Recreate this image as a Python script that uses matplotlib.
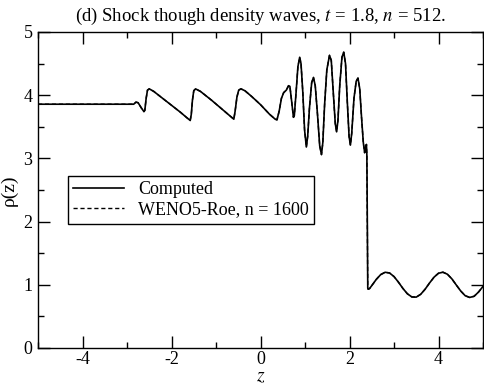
import matplotlib
matplotlib.use("Agg")
import matplotlib.pyplot as plt
from matplotlib.ticker import MultipleLocator

plt.rcParams['font.family'] = ['Liberation Serif', 'DejaVu Serif']
plt.rcParams['mathtext.fontset'] = 'stix'
plt.rcParams['axes.unicode_minus'] = False

# Computed density profile
z_computed = [
    -5.0, -3.0, -2.85, -2.80, -2.75, -2.68, -2.62, -2.60, -2.57, -2.54, -2.50,
    -2.40, -2.20, -2.00, -1.80, -1.65, -1.58, -1.555, -1.53, -1.50, -1.46,
    -1.35, -1.10, -0.85, -0.65, -0.60, -0.57, -0.53, -0.49, -0.44,
    -0.35, -0.20, 0.00, 0.20, 0.33, 0.37, 0.42, 0.47, 0.52, 0.58, 0.63, 0.66,
    0.70, 0.74, 0.76, 0.80, 0.84, 0.88, 0.91, 0.95, 0.99, 1.03, 1.06, 1.10,
    1.15, 1.19, 1.23, 1.28, 1.33, 1.37, 1.40, 1.44, 1.49, 1.55, 1.59, 1.63,
    1.68, 1.71, 1.74, 1.78, 1.83, 1.87, 1.91, 1.95, 1.99, 2.02, 2.05, 2.10,
    2.15, 2.19, 2.23, 2.27, 2.31, 2.34, 2.36, 2.38, 2.39, 2.40, 2.41, 2.42,
    2.45, 2.50, 2.60, 2.70, 2.80, 2.90, 3.00, 3.10, 3.20, 3.30, 3.40, 3.50,
    3.60, 3.70, 3.80, 3.90, 4.00, 4.10, 4.20, 4.30, 4.40, 4.50, 4.60, 4.70,
    4.80, 4.90, 5.00,
]
rho_computed = [
    3.857, 3.857, 3.857, 3.89, 3.88, 3.80, 3.74, 3.76, 3.95, 4.08, 4.10,
    4.06, 3.95, 3.84, 3.73, 3.64, 3.60, 3.70, 3.92, 4.07, 4.10,
    4.06, 3.92, 3.77, 3.65, 3.62, 3.75, 3.97, 4.08, 4.10,
    4.07, 3.98, 3.85, 3.70, 3.62, 3.61, 3.75, 3.95, 4.04, 4.08, 4.15, 4.14,
    3.90, 3.65, 3.68, 4.05, 4.45, 4.60, 4.50, 4.05, 3.45, 3.18, 3.35, 3.80,
    4.20, 4.28, 4.15, 3.70, 3.20, 3.06, 3.25, 3.85, 4.40, 4.63, 4.55, 4.10,
    3.55, 3.42, 3.60, 4.15, 4.60, 4.68, 4.50, 3.90, 3.35, 3.21, 3.40, 3.95,
    4.22, 4.27, 4.10, 3.65, 3.25, 3.09, 3.17, 3.22, 3.05, 2.00, 0.95, 0.93,
    0.94, 0.987, 1.084, 1.161, 1.198, 1.187, 1.130, 1.041, 0.942, 0.858, 0.808, 0.805,
    0.850, 0.931, 1.030, 1.121, 1.183, 1.199, 1.167, 1.094, 0.996, 0.901, 0.827, 0.800,
    0.818, 0.886, 0.974,
]
# Reference solution (WENO5-Roe, n = 1600) — visually coincides with computed
z_ref = list(z_computed)
rho_ref = list(rho_computed)

fig = plt.figure(figsize=(4.85, 3.84), dpi=100)
ax = fig.add_axes([0.0784, 0.09375, 0.9175, 0.823])

ax.plot(z_computed, rho_computed, color='black', lw=1.2, label='Computed')
ax.plot(z_ref, rho_ref, color='black', lw=1.0, ls=(0, (3, 2)), label='WENO5-Roe, n = 1600')

ax.set_xlim(-5, 5)
ax.set_ylim(0, 5)
ax.xaxis.set_major_locator(MultipleLocator(2))
ax.xaxis.set_minor_locator(MultipleLocator(1))
ax.yaxis.set_major_locator(MultipleLocator(1))
ax.yaxis.set_minor_locator(MultipleLocator(0.5))
ax.tick_params(which='both', direction='in', top=True, right=True, labelsize=13, width=1)
ax.tick_params(which='major', length=8.5)
ax.tick_params(axis='x', which='major', pad=2.5)
ax.tick_params(axis='y', which='major', pad=4)
ax.tick_params(which='minor', length=4.3)
for s in ax.spines.values():
    s.set_linewidth(1.0)

ax.set_xlabel('$z$', fontsize=14)
ax.xaxis.set_label_coords(0.5, -0.064)
ax.set_ylabel('ρ(z)', fontsize=14, labelpad=4)
ax.set_title(r'(d) Shock though density waves, $t$ = 1.8, $n$ = 512.', fontsize=13.5, pad=8)

leg = ax.legend(loc='upper left', bbox_to_anchor=(0.067, 0.544), borderaxespad=0,
                fontsize=13, fancybox=False, framealpha=1, edgecolor='black',
                handlelength=2.8, handletextpad=0.8, borderpad=0.3, labelspacing=0.15)
leg.get_frame().set_linewidth(1.0)

fig.savefig('out.png', dpi=100)
